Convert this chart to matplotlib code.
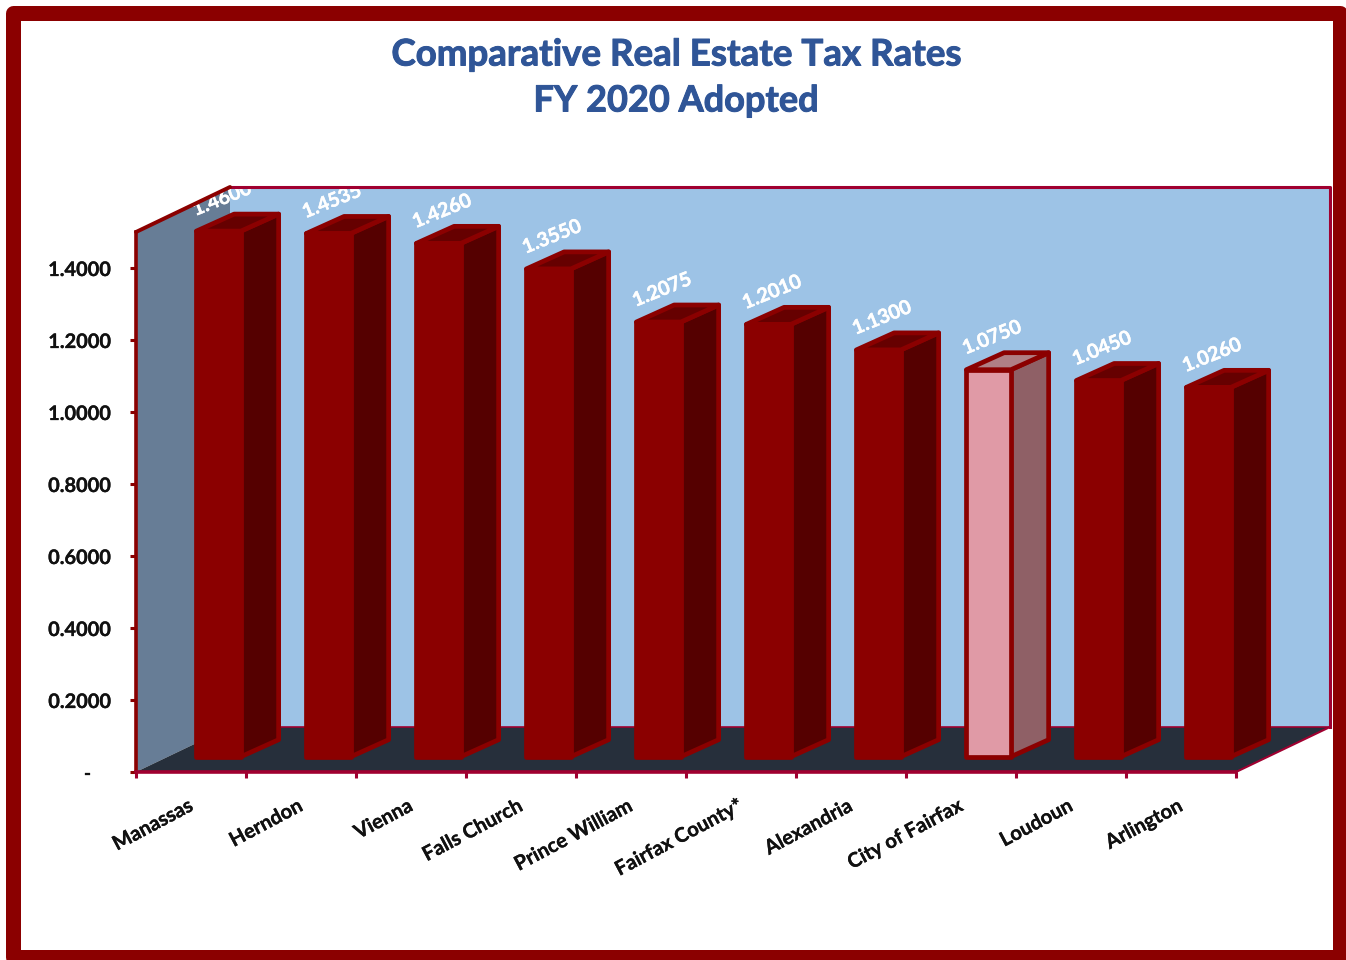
import matplotlib
matplotlib.use("Agg")
import matplotlib.pyplot as plt
import matplotlib.patheffects as pe
from matplotlib.patches import Polygon, Rectangle

# values
places = ["Manassas", "Herndon", "Vienna", "Falls Church", "Prince William",
          "Fairfax County*", "Alexandria", "City of Fairfax", "Loudoun", "Arlington"]
rates = [1.4600, 1.4535, 1.4260, 1.3550, 1.2075, 1.2010, 1.1300, 1.0750, 1.0450, 1.0260]
rate_labels = ["1.4600", "1.4535", "1.4260", "1.3550", "1.2075",
               "1.2010", "1.1300", "1.0750", "1.0450", "1.0260"]
y_ticks = [0, 0.2, 0.4, 0.6, 0.8, 1.0, 1.2, 1.4]
y_tick_labels = ["-    ", "0.2000", "0.4000", "0.6000", "0.8000", "1.0000", "1.2000", "1.4000"]
highlight = "City of Fairfax"

W, H = 1346, 960
MAROON = "#8B0000"
CRIMSON = "#A00030"
plt.rcParams["font.family"] = ["Lato", "DejaVu Sans"]
plt.rcParams["font.weight"] = "bold"

fig = plt.figure(figsize=(W / 100, H / 100), dpi=100, facecolor="white")
ax = fig.add_axes([136 / W, 1 - 772 / H, 1100 / W, 540 / H])
ax.set_xlim(0, 10)
ax.set_ylim(0, 1.5)
ax.patch.set_visible(False)

# 3d look: offsets in axis units
wall_dx, wall_dy = 94 / 110, 45 / 360
bar_dx, bar_dy = 37.7 / 110, 17 / 360
bar_x, bar_w, bar_base = 0.549, 0.405, 15.3 / 360
BAR_LW = 3.4


def poly(points, face, edge="none", lw=0, z=1):
    ax.add_patch(Polygon(points, closed=True, facecolor=face, edgecolor=edge, linewidth=lw,
                         joinstyle="round", clip_on=False, zorder=z))


# walls and floor
poly([(wall_dx, wall_dy), (10 + wall_dx, wall_dy), (10 + wall_dx, 1.5 + wall_dy), (wall_dx, 1.5 + wall_dy)],
     "#9DC3E6", z=1)
poly([(0, 0), (0, 1.5), (wall_dx, 1.5 + wall_dy), (wall_dx, wall_dy)], "#677D96", z=1)
poly([(0, 0), (10, 0), (10 + wall_dx, wall_dy), (wall_dx, wall_dy)], "#262F3B", z=1.5)

ax.plot([wall_dx, 10 + wall_dx], [wall_dy, wall_dy], color=CRIMSON, lw=1.2, clip_on=False, zorder=1.6)
ax.plot([10, 10 + wall_dx], [0, wall_dy], color=CRIMSON, lw=1.5, clip_on=False, zorder=1.6)
ax.plot([wall_dx, 10 + wall_dx, 10 + wall_dx], [1.5 + wall_dy, 1.5 + wall_dy, wall_dy],
        color=CRIMSON, lw=2.2, clip_on=False, zorder=6)
ax.plot([0, wall_dx, wall_dx], [1.5, 1.5 + wall_dy, 1.5 + wall_dy], color=MAROON, lw=2.8,
        clip_on=False, zorder=6, solid_capstyle="round")

# bars
for i, (name, rate, text) in enumerate(zip(places, rates, rate_labels)):
    x0 = i + bar_x
    x1 = x0 + bar_w
    y0 = bar_base
    y1 = bar_base + rate
    if name == highlight:
        front, side, top = "#E09AA6", "#8F6066", "#B07F85"
    else:
        front, side, top = MAROON, "#550000", "#660000"
    poly([(x1, y0), (x1 + bar_dx, y0 + bar_dy), (x1 + bar_dx, y1 + bar_dy), (x1, y1)], side, MAROON, BAR_LW, 2)
    poly([(x0, y1), (x1, y1), (x1 + bar_dx, y1 + bar_dy), (x0 + bar_dx, y1 + bar_dy)], top, MAROON, BAR_LW, 2)
    poly([(x0, y0), (x1, y0), (x1, y1), (x0, y1)], front, MAROON, BAR_LW, 3)
    ax.annotate(text, (x0 + bar_w / 2, y1), xytext=(2.4, 23.2), textcoords="offset points",
                ha="center", va="center", rotation=22, rotation_mode="anchor",
                color="white", fontsize=14.2, fontweight="bold", zorder=5, annotation_clip=False,
                path_effects=[pe.withStroke(linewidth=0.3, foreground="white")])

# axes
for s in ["top", "right"]:
    ax.spines[s].set_visible(False)
ax.spines["left"].set_color(MAROON)
ax.spines["left"].set_linewidth(2.6)
ax.spines["left"].set_zorder(7)
ax.spines["bottom"].set_color(CRIMSON)
ax.spines["bottom"].set_linewidth(2.6)
ax.spines["bottom"].set_zorder(7)

ax.set_yticks(y_ticks)
ax.set_yticklabels(y_tick_labels, fontsize=14.4, fontweight="bold", color="#111111")
ax.tick_params(axis="y", length=4.5, width=2.2, color=MAROON, pad=13.5)

ax.set_xticks(range(11))
ax.set_xticklabels([])
ax.tick_params(axis="x", which="major", length=4.5, width=2.2, color=CRIMSON)
ax.set_xticks([i + 0.46 for i in range(10)], minor=True)
ax.set_xticklabels(places, minor=True, rotation=28, ha="right", va="top", rotation_mode="anchor",
                   fontsize=14.5, fontweight="bold", color="#111111")
ax.tick_params(axis="x", which="minor", length=0, pad=17)

# Lato bold is a bit thin next to the original font
heavier = [pe.withStroke(linewidth=0.2, foreground="#111111")]
for lab in ax.get_yticklabels() + ax.get_xticklabels(minor=True):
    lab.set_path_effects(heavier)

# title
title_fx = [pe.withStroke(linewidth=0.7, foreground="#2F5597")]
fig.text(676 / W, 1 - 55 / H, "Comparative Real Estate Tax Rates", ha="center", va="center",
         fontsize=26.4, fontweight="bold", color="#2F5597", path_effects=title_fx)
fig.text(676 / W, 1 - 101 / H, "FY 2020 Adopted", ha="center", va="center",
         fontsize=26, fontweight="bold", color="#2F5597", path_effects=title_fx)

# outer frame
fig.add_artist(Rectangle((12.5 / W, 1 - 956.5 / H), 1327 / W, 944 / H, transform=fig.transFigure,
                         facecolor="none", edgecolor=MAROON, linewidth=10.8, joinstyle="round"))

fig.savefig("out.png", dpi=100)
